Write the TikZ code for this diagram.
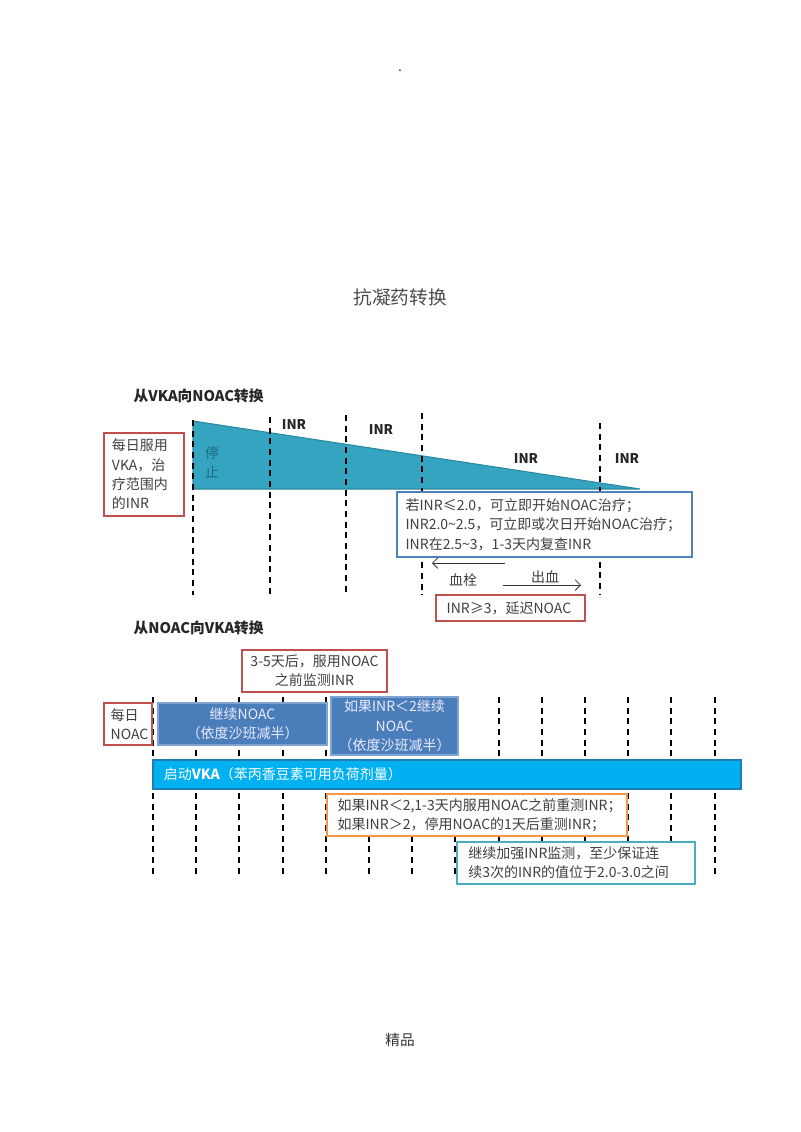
\documentclass[tikz,border=0pt]{standalone}
\usepackage{fontspec}
\setmainfont{Noto Sans CJK SC}
\usetikzlibrary{arrows.meta}

\definecolor{txt}{HTML}{404040}
\definecolor{wedgefill}{HTML}{35A4C0}
\definecolor{wedgeline}{HTML}{2B8AA3}
\definecolor{stoptxt}{HTML}{1E6B82}
\definecolor{redline}{HTML}{C0504D}
\definecolor{blueline}{HTML}{4F81BD}
\definecolor{noacfill}{HTML}{4A7EBB}
\definecolor{noacline}{HTML}{7FA4D2}
\definecolor{vkafill}{HTML}{00B0F0}
\definecolor{vkaline}{HTML}{1F7DB5}
\definecolor{orangeline}{HTML}{F79646}
\definecolor{tealline}{HTML}{4BACC6}

\tikzset{
  tick/.style={black,line width=1.5pt,dash pattern=on 4.5pt off 3.5pt},
  plain/.style={text=txt,font=\fontsize{10.5}{14.5}\selectfont},
  inr/.style={text=black!85,font=\fontsize{10}{12}\selectfont\bfseries},
  heading/.style={text=black!85,font=\fontsize{11}{13}\selectfont\bfseries,anchor=west},
  framed/.style={plain,draw,line width=1.1pt,fill=white,inner sep=0pt},
}

\begin{document}
\begin{tikzpicture}[x=0.75pt,y=-0.75pt]
\useasboundingbox (0,0) rectangle (800,1132);

% page texts
\node [plain] (dot) at (400,71) {.};
\node [text=black!70,font=\fontsize{14}{16}\selectfont] (pagetitle) at (400,297) {抗凝药转换};
\node [plain,text=black!80,font=\fontsize{11}{13}\selectfont] (footer) at (400,1040) {精品};

% ---- VKA -> NOAC ----
\node [heading] (head1) at (129,396) {从VKA向NOAC转换};

\draw [fill=wedgefill,draw=wedgeline,line width=0.8pt]
    (193,421) -- (640,489) -- (193,489) -- cycle;
\node [text=stoptxt,font=\fontsize{10.5}{14.5}\selectfont,align=center] (stop) at (212,462) {停\\止};

\draw [tick] (193,420) -- (193,595);
\draw [tick] (270,417) -- (270,595);
\draw [tick] (346,415) -- (346,595);
\draw [tick] (422,413) -- (422,595);
\draw [tick] (600,423) -- (600,595);

\node [inr] (inr1) at (294,425) {INR};
\node [inr] (inr2) at (381,430) {INR};
\node [inr] (inr3) at (526,459) {INR};
\node [inr] (inr4) at (627,459) {INR};

\node [framed,draw=redline,minimum width=60pt,minimum height=62.25pt] (vkadaily) at (144,474.5) {};
\node [plain,anchor=west,align=left] at (vkadaily.west) [xshift=3pt] {每日服用\\VKA，治\\疗范围内\\的INR};

\node [framed,draw=blueline,minimum width=221.25pt,minimum height=48.75pt] (rules) at (544.5,524.5) {};
\node [plain,anchor=west,align=left] at (rules.west) [xshift=3.5pt] {若INR≤2.0，可立即开始NOAC治疗；\\INR2.0\textasciitilde2.5，可立即或次日开始NOAC治疗；\\INR在2.5\textasciitilde3，1-3天内复查INR};

\coordinate (clotS) at (505,563);
\coordinate (clotE) at (432,563);
\coordinate (bleedS) at (503,585);
\coordinate (bleedE) at (581,585);
\draw [-{Straight Barb[length=4pt]},black!80,line width=0.6pt] (clotS) -- (clotE);
\draw [-{Straight Barb[length=4pt]},black!80,line width=0.6pt] (bleedS) -- (bleedE);
\node [plain] (clot) at (463,580) {血栓};
\node [plain] (bleed) at (545,577) {出血};

\node [framed,draw=redline,minimum width=111.75pt,minimum height=19.5pt] (delay) at (510.5,608) {};
\node [plain,anchor=west] at (delay.west) [xshift=5pt] {INR≥3，延迟NOAC};

% ---- NOAC -> VKA ----
\node [heading] (head2) at (129,628) {从NOAC向VKA转换};

\foreach \i in {0,...,13}
  \draw [tick] ({153+43.2*\i},697) -- ({153+43.2*\i},877);

\node [framed,draw=redline,minimum width=108.75pt,minimum height=31.5pt,align=center] (monitor) at (314.5,671) {3-5天后，服用NOAC\\之前监测INR};

\node [framed,draw=redline,minimum width=36pt,minimum height=31.5pt] (noacdaily) at (128,724) {};
\node [plain,anchor=west,align=left] at (noacdaily.west) [xshift=2pt] {每日\\NOAC};

\node [framed,fill=noacfill,draw=noacline,text=white!92!blue,minimum width=126.75pt,minimum height=31.5pt,align=center] (halve1) at (242.5,724) {继续NOAC\\（依度沙班减半）};
\node [framed,fill=noacfill,draw=noacline,text=white!92!blue,minimum width=95.25pt,minimum height=43.5pt,align=center] (halve2) at (394.5,726) {如果INR＜2继续\\NOAC\\（依度沙班减半）};

\node [framed,fill=vkafill,draw=vkaline,line width=0.8pt,minimum width=441pt,minimum height=21.75pt] (vkabar) at (447,774.5) {};
\node [plain,text=white,anchor=west] at (vkabar.west) [xshift=5pt] {启动\textbf{VKA}（苯丙香豆素可用负荷剂量）};

\node [framed,draw=orangeline,minimum width=225pt,minimum height=31.5pt] (recheck) at (477,815) {};
\node [plain,anchor=west,align=left] at (recheck.west) [xshift=5pt] {如果INR＜2,1-3天内服用NOAC之前重测INR；\\如果INR＞2，停用NOAC的1天后重测INR；};

\node [framed,draw=tealline,minimum width=178.5pt,minimum height=31.5pt] (keep) at (576,863) {};
\node [plain,anchor=west,align=left] at (keep.west) [xshift=5.5pt] {继续加强INR监测，至少保证连\\续3次的INR的值位于2.0-3.0之间};
\end{tikzpicture}
\end{document}
